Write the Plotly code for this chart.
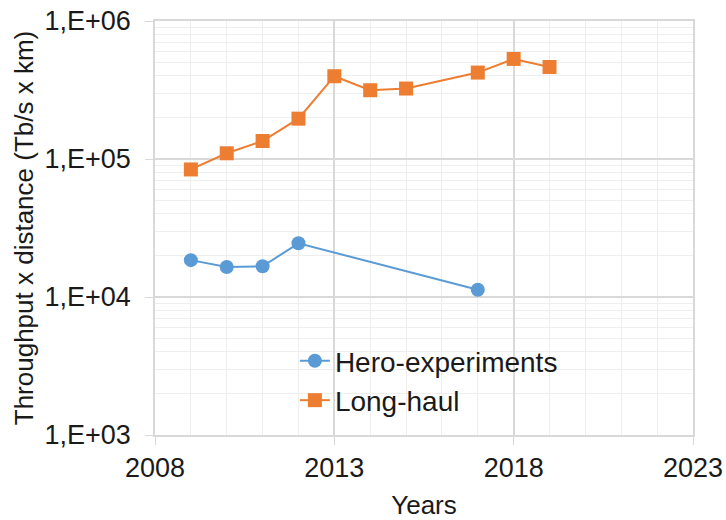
import plotly.graph_objects as go

hero_years = [2009, 2010, 2011, 2012, 2017]
hero_vals = [18500, 16500, 16700, 24500, 11300]
long_years = [2009, 2010, 2011, 2012, 2013, 2014, 2015, 2017, 2018, 2019]
long_vals = [84000, 110000, 135000, 196000, 398000, 315000, 324000, 423000, 531000, 464000]
y_tickvals = [1e3, 1e4, 1e5, 1e6]
y_ticktext = ["1,E+03", "1,E+04", "1,E+05", "1,E+06"]
x_tickvals = [2008, 2013, 2018, 2023]

fig = go.Figure()
fig.add_trace(go.Scatter(x=hero_years, y=hero_vals, name="Hero-experiments",
                         mode="lines+markers",
                         line=dict(color="#5b9bd5", width=2),
                         marker=dict(symbol="circle", size=14, color="#5b9bd5")))
fig.add_trace(go.Scatter(x=long_years, y=long_vals, name="Long-haul",
                         mode="lines+markers",
                         line=dict(color="#ed7d31", width=2),
                         marker=dict(symbol="square", size=14, color="#ed7d31")))

font = "Liberation Sans, Arial, sans-serif"
fig.update_layout(
    width=726, height=520,
    margin=dict(l=155, r=33, t=21, b=85),
    paper_bgcolor="white", plot_bgcolor="white",
    font=dict(family=font, size=27, color="#1a1a1a"),
    showlegend=True,
    legend=dict(x=0.26, y=0.239, xanchor="left", yanchor="top",
                bgcolor="rgba(0,0,0,0)", font=dict(size=28),
                itemwidth=30, tracegroupgap=0),
)
fig.update_xaxes(
    range=[2008, 2023], tickvals=x_tickvals, automargin=False,
    ticklabeloverflow="allow",
    showgrid=True, gridcolor="#d9d9d9", gridwidth=1.5,
    minor=dict(dtick=1, showgrid=True, gridcolor="#eeeeee", gridwidth=1),
    showline=True, linecolor="#d9d9d9", linewidth=1.5, mirror=True,
    ticks="outside", ticklen=8, tickcolor="#d9d9d9",
    tickfont=dict(size=27),
    title=dict(text="Years", font=dict(size=26), standoff=20),
    zeroline=False,
)
fig.update_yaxes(
    type="log", range=[3, 6], tickvals=y_tickvals, ticktext=y_ticktext,
    automargin=False, ticklabeloverflow="allow", ticklabelstandoff=9,
    showgrid=True, gridcolor="#d9d9d9", gridwidth=1.5,
    minor=dict(dtick="D1", showgrid=True, gridcolor="#eeeeee", gridwidth=1),
    showline=True, linecolor="#d9d9d9", linewidth=1.5, mirror=True,
    ticks="outside", ticklen=8, tickcolor="#d9d9d9",
    tickfont=dict(size=27),
    title=dict(text="Throughput x distance (Tb/s x km)", font=dict(size=26), standoff=3),
    zeroline=False,
)
fig.write_html("out.html", config={"displayModeBar": False},
               post_script="document.body.style.margin='0';")
